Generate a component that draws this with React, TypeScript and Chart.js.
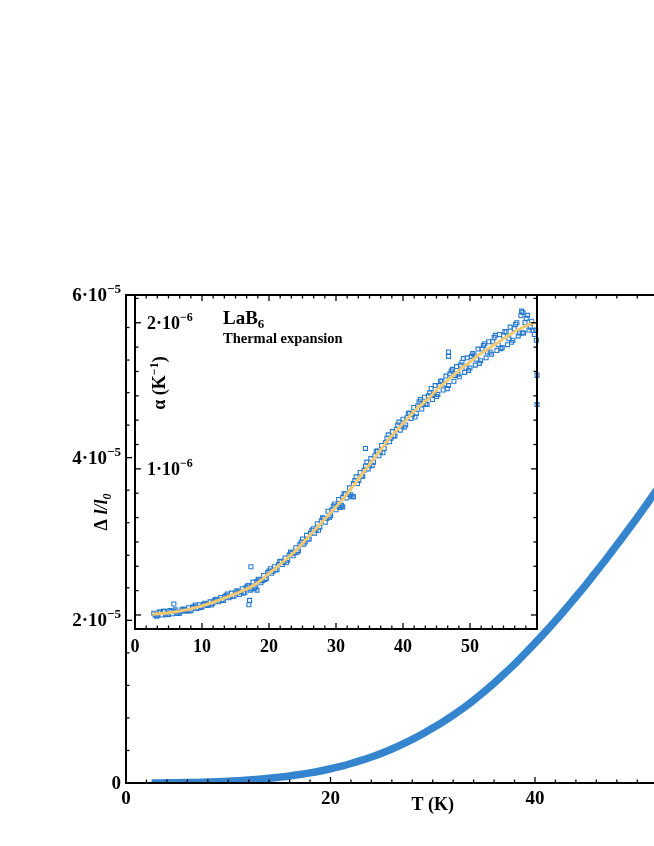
import React, { useEffect, useRef } from "react";
import { Chart, registerables } from "chart.js";

Chart.register(...registerables);

const SERIF = '"Liberation Serif", "Times New Roman", Times, serif';
const MAIN_BLUE = "rgb(53,132,206)";
const PT_BLUE = "rgb(38,120,204)";
const FIT_COLOR = "rgb(244,201,114)";

// ---- Main curve: Δl/l0 (units of 1e-5) vs T (K)
const MAIN_T = [2.5, 3, 4, 5, 6, 7, 8, 9, 10, 11, 12, 13, 14, 15, 16, 17, 18, 19, 20, 21, 22, 23, 24, 25, 26, 27, 28, 29, 30, 31, 32, 33, 34, 35, 36, 37, 38, 39, 40, 41, 42, 43, 44, 45, 46, 47, 48, 49, 50, 51, 52, 53, 54, 55, 56, 57, 58, 59, 60];
const MAIN_DL_E5 = [0.0005, 0.001, 0.002, 0.003, 0.005, 0.0075, 0.011, 0.015, 0.021, 0.028, 0.036, 0.046, 0.058, 0.072, 0.087, 0.105, 0.125, 0.148, 0.175, 0.205, 0.24, 0.278, 0.32, 0.367, 0.418, 0.475, 0.537, 0.603, 0.675, 0.752, 0.835, 0.923, 1.018, 1.12, 1.228, 1.342, 1.462, 1.59, 1.72, 1.855, 1.995, 2.14, 2.29, 2.44, 2.6, 2.76, 2.925, 3.095, 3.265, 3.44, 3.62, 3.8, 3.985, 4.17, 4.36, 4.555, 4.75, 4.95, 5.15];

// ---- Inset: fit of α (units of 1e-6 K^-1) vs T
const FIT_T = [2.6, 3, 4, 5, 6, 7, 8, 9, 10, 11, 12, 13, 14, 15, 16, 17, 18, 19, 20, 21, 22, 23, 24, 25, 26, 27, 28, 29, 30, 31, 32, 33, 34, 35, 36, 37, 38, 39, 40, 41, 42, 43, 44, 45, 46, 47, 48, 49, 50, 51, 52, 53, 54, 55, 56, 57, 58, 59, 59.6];
const FIT_A_E6 = [0.005, 0.006, 0.01, 0.015, 0.021, 0.03, 0.038, 0.05, 0.062, 0.077, 0.092, 0.11, 0.128, 0.145, 0.165, 0.185, 0.21, 0.245, 0.285, 0.32, 0.36, 0.4, 0.44, 0.49, 0.54, 0.59, 0.64, 0.69, 0.74, 0.79, 0.85, 0.91, 0.97, 1.03, 1.09, 1.15, 1.21, 1.26, 1.31, 1.36, 1.41, 1.45, 1.49, 1.54, 1.58, 1.62, 1.66, 1.7, 1.73, 1.77, 1.8, 1.83, 1.86, 1.89, 1.92, 1.95, 1.97, 1.99, 2.0];

// ---- Inset: measured α points (units of 1e-6 K^-1)
const PTS_T = [
  2.8, 3.2, 3.6, 4.0, 4.4, 4.8, 5.2, 5.6, 6.0, 6.4, 6.8, 7.2, 7.6, 8.0, 8.4, 8.8, 9.2, 9.6, 10.0, 10.4,
  10.8, 11.2, 11.6, 12.0, 12.4, 12.8, 13.2, 13.6, 14.0, 14.4, 14.8, 15.2, 15.6, 16.0, 16.4, 16.8, 17.2, 17.6, 18.0, 18.4,
  18.8, 19.2, 19.6, 20.0, 20.4, 20.8, 21.2, 21.6, 22.0, 22.4, 22.8, 23.2, 23.6, 24.0, 24.4, 24.8, 25.2, 25.6, 26.0, 26.4,
  26.8, 27.2, 27.6, 28.0, 28.4, 28.8, 29.2, 29.6, 30.0, 30.4, 30.8, 31.2, 31.6, 32.0, 32.4, 32.8, 33.2, 33.6, 34.0, 34.4,
  34.8, 35.2, 35.6, 36.0, 36.4, 36.8, 37.2, 37.6, 38.0, 38.4, 38.8, 39.2, 39.6, 40.0, 40.4, 40.8, 41.2, 41.6, 42.0, 42.4,
  42.8, 43.2, 43.6, 44.0, 44.4, 44.8, 45.2, 45.6, 46.0, 46.4, 46.8, 47.2, 47.6, 48.0, 48.4, 48.8, 49.2, 49.6, 50.0, 50.4,
  50.8, 51.2, 51.6, 52.0, 52.4, 52.8, 53.2, 53.6, 54.0, 54.4, 54.8, 55.2, 55.6, 56.0, 56.4, 56.8, 57.2, 57.6, 58.0, 58.4,
  58.8, 59.2, 59.6,
  3.0, 3.8, 4.6, 5.4, 6.2, 7.0, 7.8, 8.6, 9.4, 10.2, 11.0, 11.8, 12.6, 13.4, 14.2, 15.0, 15.8, 16.6, 17.4, 18.2,
  19.0, 19.8, 20.6, 21.4, 22.2, 23.0, 23.8, 24.6, 25.4, 26.2, 27.0, 27.8, 28.6, 29.4, 30.2, 31.0, 31.8, 32.6, 33.4, 34.2,
  35.0, 35.8, 36.6, 37.4, 38.2, 39.0, 39.8, 40.6, 41.4, 42.2, 43.0, 43.8, 44.6, 45.4, 46.2, 47.0, 47.8, 48.6, 49.4, 50.2,
  51.0, 51.8, 52.6, 53.4, 54.2, 55.0, 55.8, 56.6, 57.4, 58.2, 59.0, 59.8,
  3.4, 4.2, 5.0, 5.8, 6.6, 7.4, 8.2, 9.0, 9.8, 10.6, 11.4, 12.2, 13.0, 13.8, 14.6, 15.4, 16.2, 17.0, 17.8, 18.6,
  19.4, 20.2, 21.0, 21.8, 22.6, 23.4, 24.2, 25.0, 25.8, 26.6, 27.4, 28.2, 29.0, 29.8, 30.6, 31.4, 32.2, 33.0, 33.8, 34.6,
  35.4, 36.2, 37.0, 37.8, 38.6, 39.4, 40.2, 41.0, 41.8, 42.6, 43.4, 44.2, 45.0, 45.8, 46.6, 47.4, 48.2, 49.0, 49.8, 50.6,
  51.4, 52.2, 53.0, 53.8, 54.6, 55.4, 56.2, 57.0, 57.8, 58.6, 59.4,
  5.8, 17.3, 17.0, 17.1, 18.2, 31.0, 32.6, 34.4, 46.8, 46.8, 57.7, 57.9, 60.0, 60.0, 59.9,
];
const PTS_A_E6 = [
  0.012, -0.008, 0.02, 0.0, 0.025, 0.005, 0.03, 0.008, 0.035, 0.01, 0.022, 0.04, 0.025, 0.05, 0.033, 0.06, 0.045, 0.07, 0.055, 0.08,
  0.065, 0.09, 0.078, 0.105, 0.09, 0.12, 0.1, 0.135, 0.118, 0.15, 0.13, 0.165, 0.14, 0.18, 0.155, 0.2, 0.17, 0.225, 0.19, 0.245,
  0.22, 0.27, 0.25, 0.3, 0.285, 0.33, 0.31, 0.365, 0.345, 0.39, 0.375, 0.43, 0.405, 0.46, 0.44, 0.5, 0.485, 0.545, 0.52, 0.58,
  0.56, 0.625, 0.6, 0.665, 0.635, 0.71, 0.68, 0.745, 0.72, 0.79, 0.75, 0.83, 0.8, 0.87, 0.81, 0.92, 0.9, 0.975, 0.95, 1.02,
  1.0, 1.07, 1.045, 1.12, 1.09, 1.16, 1.14, 1.21, 1.185, 1.255, 1.225, 1.3, 1.265, 1.34, 1.3, 1.38, 1.345, 1.42, 1.38, 1.46,
  1.41, 1.49, 1.44, 1.52, 1.475, 1.57, 1.51, 1.6, 1.54, 1.635, 1.57, 1.67, 1.6, 1.7, 1.63, 1.73, 1.66, 1.76, 1.69, 1.79,
  1.71, 1.82, 1.74, 1.845, 1.76, 1.87, 1.785, 1.9, 1.81, 1.92, 1.83, 1.94, 1.85, 1.97, 1.88, 1.99, 1.91, 2.05, 1.93, 2.03,
  1.95, 2.01, 1.92,
  0.0, 0.018, 0.002, 0.024, 0.012, 0.036, 0.03, 0.052, 0.048, 0.072, 0.07, 0.098, 0.095, 0.126, 0.125, 0.152, 0.155, 0.19, 0.18, 0.23,
  0.235, 0.29, 0.3, 0.345, 0.36, 0.41, 0.425, 0.48, 0.5, 0.56, 0.58, 0.645, 0.66, 0.72, 0.745, 0.805, 0.83, 0.9, 0.92, 0.99,
  1.02, 1.09, 1.115, 1.18, 1.21, 1.27, 1.29, 1.35, 1.37, 1.43, 1.44, 1.5, 1.51, 1.57, 1.58, 1.65, 1.64, 1.71, 1.69, 1.77,
  1.75, 1.82, 1.8, 1.87, 1.85, 1.91, 1.89, 1.96, 1.93, 2.0, 1.97, 1.95,
  -0.002, 0.026, 0.003, 0.025, 0.011, 0.035, 0.028, 0.068, 0.052, 0.075, 0.068, 0.108, 0.104, 0.144, 0.126, 0.159, 0.149, 0.2, 0.18, 0.239,
  0.242, 0.317, 0.31, 0.367, 0.359, 0.421, 0.43, 0.52, 0.518, 0.59, 0.58, 0.66, 0.668, 0.76, 0.735, 0.829, 0.822, 0.945, 0.948, 1.046,
  1.024, 1.122, 1.11, 1.233, 1.225, 1.32, 1.285, 1.38, 1.355, 1.474, 1.446, 1.55, 1.495, 1.602, 1.549, 1.681, 1.648, 1.755, 1.674, 1.779,
  1.722, 1.856, 1.8, 1.914, 1.823, 1.937, 1.866, 2.0, 1.93, 2.051, 1.947,
  0.075, 0.33, 0.07, 0.1, 0.17, 0.74, 0.81, 1.14, 1.8, 1.77, 2.08, 2.07, 1.64, 1.44, 1.88,
];

// ---- Axes / tick text
const MAIN_X_RANGE = [0, 60];
const MAIN_Y_RANGE_E5 = [0, 6];
const MAIN_X_MAJOR = 20;
const MAIN_X_MINOR = 2;
const MAIN_Y_MAJOR = 2;
const MAIN_Y_MINOR = 0.4;
const MAIN_X_TICK_VALUES = [0, 20, 40, 60];
const MAIN_X_TICK_LABELS = ["0", "20", "40", "60"];
const MAIN_Y_TICK_VALUES = [0, 2, 4, 6];
const MAIN_Y_TICK_BASES = ["0", "2·10", "4·10", "6·10"];
const MAIN_Y_TICK_EXPS = ["", "−5", "−5", "−5"];

const INSET_X_RANGE = [0, 60];
const INSET_Y_RANGE_E6 = [-0.096, 2.19];
const INSET_X_MAJOR = 10;
const INSET_X_SUBDIV = 6;
const INSET_Y_MAJOR = 1;
const INSET_Y_SUBDIV = 6;
const INSET_X_TICK_VALUES = [0, 10, 20, 30, 40, 50];
const INSET_X_TICK_LABELS = ["0", "10", "20", "30", "40", "50"];
const INSET_Y_TICK_VALUES = [1, 2];
const INSET_Y_TICK_BASES = ["1·10", "2·10"];
const INSET_Y_TICK_EXPS = ["−6", "−6"];

type Part = { t: string; size: number; italic?: boolean; dy?: number };

function drawParts(ctx: CanvasRenderingContext2D, parts: Part[], x: number, y: number, align: "left" | "center" | "right") {
  const font = (p: Part) => `${p.italic ? "italic " : ""}bold ${p.size}px ${SERIF}`;
  let total = 0;
  const widths = parts.map((p) => {
    ctx.font = font(p);
    const w = ctx.measureText(p.t).width;
    total += w;
    return w;
  });
  let cx = align === "left" ? x : align === "right" ? x - total : x - total / 2;
  ctx.textAlign = "left";
  ctx.textBaseline = "alphabetic";
  parts.forEach((p, i) => {
    ctx.font = font(p);
    ctx.fillText(p.t, cx, y + (p.dy || 0));
    cx += widths[i];
  });
}

function tickLine(ctx: CanvasRenderingContext2D, x1: number, y1: number, x2: number, y2: number) {
  ctx.beginPath();
  ctx.moveTo(x1, y1);
  ctx.lineTo(x2, y2);
  ctx.stroke();
}

const mainDeco = {
  id: "mainDeco",
  afterDraw(chart: any) {
    const ctx: CanvasRenderingContext2D = chart.ctx;
    const a = chart.chartArea;
    const sx = chart.scales.x;
    const sy = chart.scales.y;
    ctx.save();
    ctx.strokeStyle = "#000";
    ctx.fillStyle = "#000";
    ctx.lineWidth = 1.3;
    const nx = Math.round((MAIN_X_RANGE[1] - MAIN_X_RANGE[0]) / MAIN_X_MINOR);
    for (let i = 0; i <= nx; i++) {
      const v = MAIN_X_RANGE[0] + i * MAIN_X_MINOR;
      const major = Math.abs(v / MAIN_X_MAJOR - Math.round(v / MAIN_X_MAJOR)) < 1e-6;
      const len = major ? 6 : 3.5;
      const px = sx.getPixelForValue(v);
      tickLine(ctx, px, a.bottom, px, a.bottom - len);
      tickLine(ctx, px, a.top, px, a.top + len);
    }
    const ny = Math.round((MAIN_Y_RANGE_E5[1] - MAIN_Y_RANGE_E5[0]) / MAIN_Y_MINOR);
    for (let i = 0; i <= ny; i++) {
      const v = MAIN_Y_RANGE_E5[0] + i * MAIN_Y_MINOR;
      const major = Math.abs(v / MAIN_Y_MAJOR - Math.round(v / MAIN_Y_MAJOR)) < 1e-6;
      const len = major ? 6 : 3.5;
      const py = sy.getPixelForValue(v);
      tickLine(ctx, a.left, py, a.left + len, py);
      tickLine(ctx, a.right, py, a.right - len, py);
    }
    ctx.lineWidth = 2;
    ctx.strokeRect(a.left, a.top, a.right - a.left, a.bottom - a.top);

    MAIN_X_TICK_VALUES.forEach((v, i) => {
      drawParts(ctx, [{ t: MAIN_X_TICK_LABELS[i], size: 19 }], sx.getPixelForValue(v), a.bottom + 21, "center");
    });
    MAIN_Y_TICK_VALUES.forEach((v, i) => {
      const py = sy.getPixelForValue(v);
      const parts: Part[] = [{ t: MAIN_Y_TICK_BASES[i], size: 19 }];
      if (MAIN_Y_TICK_EXPS[i]) parts.push({ t: MAIN_Y_TICK_EXPS[i], size: 13, dy: -8 });
      drawParts(ctx, parts, a.left - 5, py + 6, "right");
    });
    drawParts(ctx, [{ t: "T (K)", size: 18 }], (a.left + a.right) / 2, a.bottom + 27, "center");

    ctx.translate(101, 512);
    ctx.rotate(-Math.PI / 2);
    drawParts(ctx, [
      { t: "Δ ", size: 18 },
      { t: "l/l", size: 18, italic: true },
      { t: "0", size: 12, italic: true, dy: 4 },
    ], 0, 6, "center");
    ctx.restore();
  },
};

const insetDeco = {
  id: "insetDeco",
  beforeDraw(chart: any) {
    const ctx: CanvasRenderingContext2D = chart.ctx;
    const a = chart.chartArea;
    ctx.save();
    ctx.fillStyle = "#fff";
    ctx.fillRect(a.left, a.top, a.right - a.left, a.bottom - a.top);
    ctx.restore();
  },
  afterDraw(chart: any) {
    const ctx: CanvasRenderingContext2D = chart.ctx;
    const a = chart.chartArea;
    const sx = chart.scales.x;
    const sy = chart.scales.y;
    ctx.save();
    ctx.strokeStyle = "#000";
    ctx.fillStyle = "#000";
    ctx.lineWidth = 1.3;
    const xStep = INSET_X_MAJOR / INSET_X_SUBDIV;
    const nx = Math.round((INSET_X_RANGE[1] - INSET_X_RANGE[0]) / xStep);
    for (let i = 0; i <= nx; i++) {
      const v = INSET_X_RANGE[0] + i * xStep;
      const major = i % INSET_X_SUBDIV === 0;
      const len = major ? 6 : 3.5;
      const px = sx.getPixelForValue(v);
      tickLine(ctx, px, a.bottom, px, a.bottom - len);
      tickLine(ctx, px, a.top, px, a.top + len);
    }
    const yStep = INSET_Y_MAJOR / INSET_Y_SUBDIV;
    for (let i = 0; i * yStep <= INSET_Y_RANGE_E6[1]; i++) {
      const v = i * yStep;
      const major = i % INSET_Y_SUBDIV === 0;
      const len = major ? 6 : 3.5;
      const py = sy.getPixelForValue(v);
      tickLine(ctx, a.left, py, a.left + len, py);
      tickLine(ctx, a.right, py, a.right - len, py);
    }
    ctx.lineWidth = 2;
    ctx.strokeRect(a.left, a.top, a.right - a.left, a.bottom - a.top);

    INSET_X_TICK_VALUES.forEach((v, i) => {
      drawParts(ctx, [{ t: INSET_X_TICK_LABELS[i], size: 18 }], sx.getPixelForValue(v), a.bottom + 23, "center");
    });
    INSET_Y_TICK_VALUES.forEach((v, i) => {
      const py = sy.getPixelForValue(v);
      drawParts(ctx, [
        { t: INSET_Y_TICK_BASES[i], size: 18 },
        { t: INSET_Y_TICK_EXPS[i], size: 12, dy: -8 },
      ], a.left + 12, py + 6, "left");
    });
    drawParts(ctx, [
      { t: "LaB", size: 19 },
      { t: "6", size: 13, dy: 4 },
    ], a.left + 88, a.top + 29, "left");
    drawParts(ctx, [{ t: "Thermal expansion", size: 14.5 }], a.left + 88, a.top + 48, "left");

    ctx.translate(a.left + 24, a.top + 88);
    ctx.rotate(-Math.PI / 2);
    drawParts(ctx, [
      { t: "α (K", size: 18 },
      { t: "−1", size: 12, dy: -7 },
      { t: ")", size: 18 },
    ], 0, 6, "center");
    ctx.restore();
  },
};

export default function App() {
  const mainRef = useRef<HTMLCanvasElement>(null);
  const insetRef = useRef<HTMLCanvasElement>(null);

  useEffect(() => {
    const fixedScale = (w?: number, h?: number) => (s: any) => {
      if (w !== undefined) s.width = w;
      if (h !== undefined) s.height = h;
    };
    const mainChart = new Chart(mainRef.current as HTMLCanvasElement, {
      type: "scatter",
      data: {
        datasets: [
          {
            data: MAIN_T.map((t, i) => ({ x: t, y: MAIN_DL_E5[i] })),
            showLine: true,
            borderColor: MAIN_BLUE,
            backgroundColor: MAIN_BLUE,
            borderWidth: 7.5,
            borderCapStyle: "butt",
            pointRadius: 0,
            cubicInterpolationMode: "monotone",
          } as any,
        ],
      },
      options: {
        animation: false,
        responsive: false,
        maintainAspectRatio: false,
        layout: { padding: { left: 0, right: 800 - 739.5, top: 295, bottom: 0 } },
        plugins: { legend: { display: false }, tooltip: { enabled: false } },
        scales: {
          x: {
            type: "linear",
            min: MAIN_X_RANGE[0],
            max: MAIN_X_RANGE[1],
            grid: { display: false },
            border: { display: false },
            ticks: { display: false },
            afterFit: fixedScale(undefined, 63),
          },
          y: {
            type: "linear",
            min: MAIN_Y_RANGE_E5[0],
            max: MAIN_Y_RANGE_E5[1],
            grid: { display: false },
            border: { display: false },
            ticks: { display: false },
            afterFit: fixedScale(126, undefined),
          },
        },
      } as any,
      plugins: [mainDeco],
    });

    const insetChart = new Chart(insetRef.current as HTMLCanvasElement, {
      type: "scatter",
      data: {
        datasets: [
          {
            data: FIT_T.map((t, i) => ({ x: t, y: FIT_A_E6[i] })),
            showLine: true,
            borderColor: FIT_COLOR,
            borderWidth: 3,
            pointRadius: 0,
            cubicInterpolationMode: "monotone",
            order: 0,
          } as any,
          {
            data: PTS_T.map((t, i) => ({ x: t, y: PTS_A_E6[i] })),
            showLine: false,
            pointStyle: "rect",
            pointRadius: 2.8,
            borderWidth: 1.1,
            borderColor: PT_BLUE,
            backgroundColor: "rgba(0,0,0,0)",
            clip: 6,
            order: 1,
          } as any,
        ],
      },
      options: {
        animation: false,
        responsive: false,
        maintainAspectRatio: false,
        layout: { padding: { left: 0, right: 23, top: 15, bottom: 0 } },
        plugins: { legend: { display: false }, tooltip: { enabled: false } },
        scales: {
          x: {
            type: "linear",
            min: INSET_X_RANGE[0],
            max: INSET_X_RANGE[1],
            grid: { display: false },
            border: { display: false },
            ticks: { display: false },
            afterFit: fixedScale(undefined, 31),
          },
          y: {
            type: "linear",
            min: INSET_Y_RANGE_E6[0],
            max: INSET_Y_RANGE_E6[1],
            grid: { display: false },
            border: { display: false },
            ticks: { display: false },
            afterFit: fixedScale(35, undefined),
          },
        },
      } as any,
      plugins: [insetDeco],
    });

    return () => {
      mainChart.destroy();
      insetChart.destroy();
    };
  }, []);

  return (
    <div style={{ position: "fixed", left: 0, top: 0, width: 654, height: 846, overflow: "hidden", background: "#fff" }}>
      <canvas ref={mainRef} width={800} height={846} style={{ position: "absolute", left: 0, top: 0, width: 800, height: 846 }} />
      <canvas ref={insetRef} width={460} height={380} style={{ position: "absolute", left: 100, top: 280, width: 460, height: 380 }} />
    </div>
  );
}
